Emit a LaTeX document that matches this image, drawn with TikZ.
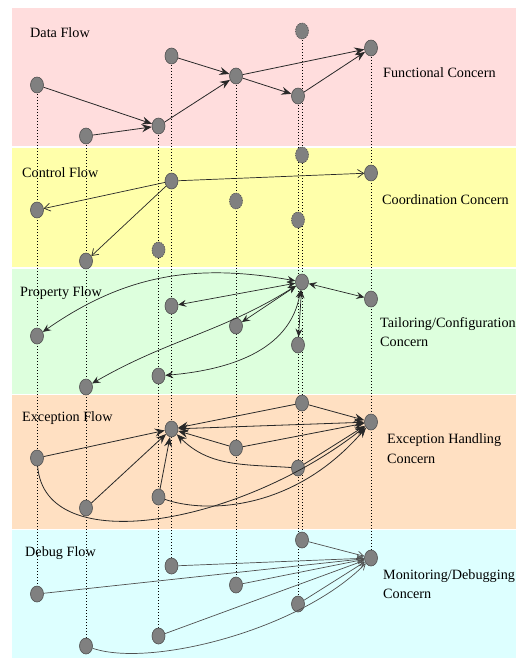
\documentclass[tikz,border=0pt]{standalone}
\usepackage{fontspec}
\setmainfont{Liberation Serif}
\usetikzlibrary{shapes.geometric,arrows.meta}
\pgfdeclarelayer{back}
\pgfdeclarelayer{mid}
\pgfsetlayers{back,mid,main}
\definecolor{bandpink}{RGB}{255,221,221}
\definecolor{bandyellow}{RGB}{255,255,170}
\definecolor{bandgreen}{RGB}{221,255,221}
\definecolor{bandorange}{RGB}{255,224,194}
\definecolor{bandcyan}{RGB}{221,255,255}
\definecolor{nodefill}{RGB}{128,128,128}
\definecolor{nodeline}{RGB}{80,80,80}
\definecolor{edgecol}{RGB}{40,40,40}
\definecolor{dbgcol}{RGB}{80,80,80}
\tikzset{
  pt/.style={ellipse, minimum width=13pt, minimum height=16pt, inner sep=0pt, fill=nodefill, draw=nodeline, line width=0.6pt},
  ghost/.style={pt, dash pattern=on 1.5pt off 1pt},
  lifeline/.style={draw=black, line width=0.5pt, dash pattern=on 1pt off 2pt},
  lbl/.style={anchor=base west, inner sep=0pt, font=\fontsize{14.2}{18}\selectfont},
  bigtip/.tip={Stealth[length=10pt,width=8pt,inset=3.5pt]},
  midtip/.tip={Stealth[length=8pt,width=7pt,inset=3pt]},
  dflow/.style={draw=edgecol, line width=0.8pt, -bigtip},
  cflow/.style={draw=edgecol, line width=0.7pt, -{Straight Barb[length=6pt,width=8pt]}},
  pflow/.style={draw=edgecol, line width=0.7pt, midtip-midtip},
  xflow/.style={draw=edgecol, line width=0.8pt, -bigtip},
  xflowtwo/.style={draw=edgecol, line width=0.8pt, bigtip-bigtip},
  gflow/.style={draw=dbgcol, line width=0.7pt, -{Straight Barb[length=6pt,width=6.5pt]}},
}
\begin{document}
\begin{tikzpicture}[x=1pt,y=1pt]
\useasboundingbox (0,0) rectangle (516,-658);
\begin{pgfonlayer}{back}
\fill[bandpink]   (12,-8)     rectangle (516,-146);
\fill[bandyellow] (12,-147.5) rectangle (516,-267);
\fill[bandgreen]  (12,-268.5) rectangle (516,-393.5);
\fill[bandorange] (12,-395)   rectangle (516,-528.5);
\fill[bandcyan]   (12,-530)   rectangle (516,-658);
\end{pgfonlayer}

% labels
\node[lbl] (ldata) at (30,-38) {Data Flow};
\node[lbl] (lfun) at (383,-78) {Functional Concern};
\node[lbl] (lctrl) at (22,-177) {Control Flow};
\node[lbl] (lcoord) at (382,-204) {Coordination Concern};
\node[lbl] (lprop) at (20,-296) {Property Flow};
\node[lbl] (ltaila) at (380,-327) {Tailoring/Configuration};
\node[lbl] (ltailb) at (380,-346) {Concern};
\node[lbl] (lexc) at (22,-421) {Exception Flow};
\node[lbl] (lexha) at (387,-443) {Exception Handling};
\node[lbl] (lexhb) at (387,-463) {Concern};
\node[lbl] (ldbg) at (25,-556) {Debug Flow};
\node[lbl] (lmona) at (383,-579) {Monitoring/Debugging};
\node[lbl] (lmonb) at (383,-598) {Concern};

% Data flow
\node[pt] (A1) at (37,-85) {};
\node[pt] (A2) at (86,-136) {};
\node[pt] (A3) at (158.5,-126) {};
\node[pt] (A4) at (171.5,-56) {};
\node[pt] (A5) at (236,-76) {};
\node[ghost] (A6) at (302,-31) {};
\node[pt] (A7) at (298,-96) {};
\node[pt] (A8) at (371,-48) {};
% Control flow
\node[pt] (B1) at (37,-210) {};
\node[pt] (B2) at (86,-261) {};
\node[ghost] (B3) at (158.5,-250) {};
\node[pt] (B4) at (171.5,-181) {};
\node[ghost] (B5) at (236,-201) {};
\node[ghost] (B6) at (302,-155) {};
\node[ghost] (B7) at (298,-220) {};
\node[pt] (B8) at (371,-173) {};
% Property flow
\node[pt] (C1) at (37,-336) {};
\node[pt] (C2) at (86,-387) {};
\node[pt] (C3) at (158.5,-376) {};
\node[pt] (C4) at (171.5,-306) {};
\node[pt] (C5) at (236,-326) {};
\node[pt] (C6) at (302,-282) {};
\node[pt] (C7) at (298,-345) {};
\node[pt] (C8) at (371,-299) {};
% Exception flow
\node[pt] (D1) at (37,-458) {};
\node[pt] (D2) at (86,-508) {};
\node[pt] (D3) at (158.5,-497) {};
\node[pt] (D4) at (171.5,-429) {};
\node[pt] (D5) at (236,-448) {};
\node[pt] (D6) at (302,-403) {};
\node[pt] (D7) at (298,-468) {};
\node[pt] (D8) at (371,-422) {};
% Debug flow
\node[pt] (E1) at (37,-594) {};
\node[pt] (E2) at (86,-646) {};
\node[pt] (E3) at (158.5,-636) {};
\node[pt] (E4) at (171.5,-566) {};
\node[pt] (E5) at (236,-585) {};
\node[pt] (E6) at (302,-540) {};
\node[pt] (E7) at (298,-604) {};
\node[pt] (E8) at (371,-558) {};

% lifelines
\begin{pgfonlayer}{mid}
\foreach \c in {1,...,8} {
  \draw[lifeline] (A\c.center) -- (E\c.center);
}
\end{pgfonlayer}

% Data flow edges
\draw[dflow] (A1) -- (A3);
\draw[dflow] (A2) -- (A3);
\draw[dflow] (A3) -- (A5);
\draw[dflow] (A4) -- (A5);
\draw[dflow] (A5) -- (A7);
\draw[dflow] (A5) -- (A8);
\draw[dflow] (A7) -- (A8);

% Control flow edges
\draw[cflow] (B4) -- (B1);
\draw[cflow] (B4) -- (B2);
\draw[cflow] (B4) -- (B8);

% Property flow edges
\draw[pflow] (C6) to[out=170,in=35] (C1);
\draw[pflow] (C6) -- (C4);
\draw[pflow] (C6) -- (C5);
\draw[pflow] (C6) to[out=212,in=30] (C2);
\draw[pflow] (C6) to[out=260,in=5] (C3);
\draw[pflow] (C6) -- (C7);
\draw[pflow] (C6) -- (C8);

% Exception flow edges
\draw[xflow] (D1) -- (D4);
\draw[xflow] (D2) -- (D4);
\draw[xflow] (D3) -- (D4);
\draw[xflow] (D5) -- (D4);
\draw[xflow] (D6) -- (D4);
\draw[xflowtwo] (D4) -- (D8);
\draw[xflow] (D7) to[out=176,in=-45] (D4);
\draw[xflow] (D6) -- (D8);
\draw[xflow] (D5) -- (D8);
\draw[xflow] (D7) -- (D8);
\draw[xflow] (D3) .. controls +(41.5,-15) and +(-81,-93) .. (D8);
\draw[xflow] (D1) .. controls +(8,-102) and +(-131,-103) .. (D8);

% Debug flow edges
\draw[gflow] (E6) -- (E8);
\draw[gflow] (E4) -- (E8);
\draw[gflow] (E1) -- (E8);
\draw[gflow] (E5) -- (E8);
\draw[gflow] (E7) -- (E8);
\draw[gflow] (E3) -- (E8);
\draw[gflow] (E2) .. controls +(64,-22) and +(-71,-72) .. (E8);
\end{tikzpicture}
\end{document}
